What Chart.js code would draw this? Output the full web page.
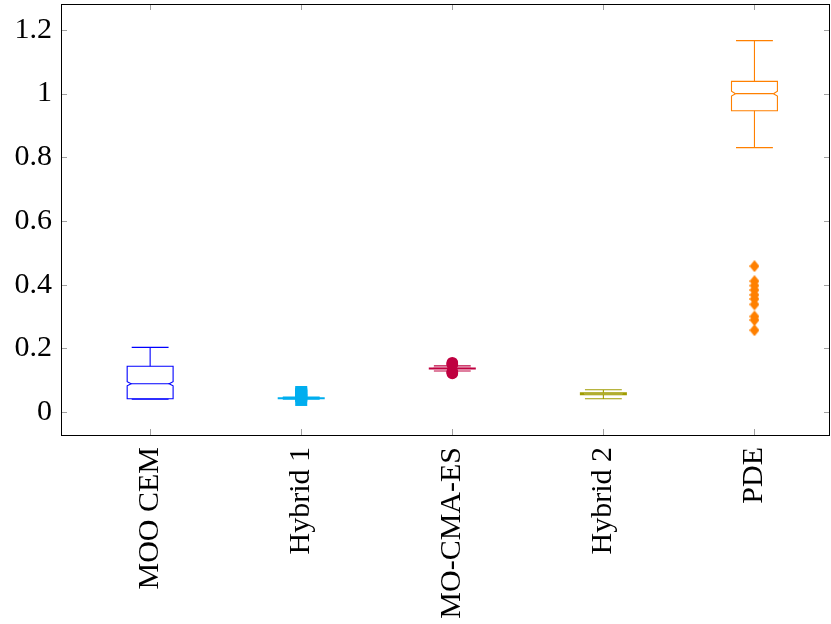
<!DOCTYPE html>
<html>
<head>
<meta charset="utf-8">
<script src="https://cdn.jsdelivr.net/npm/chart.js@4.4.0/dist/chart.umd.min.js"></script>
<style>
  html, body { margin: 0; padding: 0; background: #fff; }
  #wrap { width: 831px; height: 624px; }
</style>
</head>
<body>
<div id="wrap"><canvas id="box-chart"></canvas></div>
<script>
// categorias e estatísticas das caixas
const methods = ['MOO CEM', 'Hybrid 1', 'MO-CMA-ES', 'Hybrid 2', 'PDE'];
const whiskerLow  = [0.040, 0.040, 0.129, 0.042, 0.830];
const q1          = [0.042, 0.042, 0.1355, 0.0545, 0.946];
const notchLow    = [0.0826, 0.0428, 0.1365, 0.0565, 0.992];
const median      = [0.089, 0.0435, 0.137, 0.0575, 0.9995];
const notchHigh   = [0.0952, 0.0442, 0.1375, 0.0585, 1.007];
const q3          = [0.144, 0.045, 0.1385, 0.0605, 1.038];
const whiskerHigh = [0.203, 0.047, 0.145, 0.070, 1.166];

// valores atípicos por método
const outHybrid1 = [0.038, 0.050, 0.054, 0.058, 0.063];
const outMoCma   = [0.121, 0.124, 0.127, 0.149, 0.152, 0.155];
const outPde     = [0.458, 0.411, 0.397, 0.383, 0.368, 0.355, 0.338, 0.300, 0.289, 0.257];

const yTicks = [0, 0.2, 0.4, 0.6, 0.8, 1, 1.2];

const colors = ['#0000ff', '#00aeef', '#bf0040', '#a09c00', '#ff8000'];

// marcador losango (mais alto que largo)
function diamond(color, w, h) {
  const c = document.createElement('canvas');
  c.width = w; c.height = h;
  const g = c.getContext('2d');
  g.fillStyle = color;
  g.beginPath();
  g.moveTo(w / 2, 0); g.lineTo(w, h / 2); g.lineTo(w / 2, h); g.lineTo(0, h / 2);
  g.closePath(); g.fill();
  return c;
}

const toPts = (idx, vals) => vals.map(v => ({ x: idx + 1, y: v }));

// desenha caixas com entalhe, bigodes e moldura
const boxPlugin = {
  id: 'boxes',
  beforeDatasetsDraw(chart) {
    const { ctx, scales: { x, y } } = chart;
    ctx.save();
    ctx.lineWidth = 1.1;
    methods.forEach((m, i) => {
      const c = x.getPixelForValue(i + 1);
      const l = x.getPixelForValue(i + 1 - 0.152);
      const r = x.getPixelForValue(i + 1 + 0.152);
      const cl = x.getPixelForValue(i + 1 - 0.122);
      const cr = x.getPixelForValue(i + 1 + 0.122);
      const ind = 4;
      ctx.strokeStyle = colors[i];
      const yq1 = y.getPixelForValue(q1[i]), yq3 = y.getPixelForValue(q3[i]);
      const ynl = y.getPixelForValue(notchLow[i]), ynh = y.getPixelForValue(notchHigh[i]);
      const ym = y.getPixelForValue(median[i]);
      ctx.beginPath();
      ctx.moveTo(l, yq3); ctx.lineTo(r, yq3); ctx.lineTo(r, ynh);
      ctx.lineTo(r - ind, ym); ctx.lineTo(r, ynl); ctx.lineTo(r, yq1);
      ctx.lineTo(l, yq1); ctx.lineTo(l, ynl); ctx.lineTo(l + ind, ym);
      ctx.lineTo(l, ynh); ctx.closePath();
      ctx.stroke();
      ctx.beginPath();
      ctx.moveTo(l + ind, ym); ctx.lineTo(r - ind, ym);
      // bigodes
      const ywh = y.getPixelForValue(whiskerHigh[i]), ywl = y.getPixelForValue(whiskerLow[i]);
      ctx.moveTo(c, yq3); ctx.lineTo(c, ywh);
      ctx.moveTo(cl, ywh); ctx.lineTo(cr, ywh);
      ctx.moveTo(c, yq1); ctx.lineTo(c, ywl);
      ctx.moveTo(cl, ywl); ctx.lineTo(cr, ywl);
      ctx.stroke();
    });
    ctx.restore();
  },
  afterDatasetsDraw(chart) {
    const { ctx, scales: { x, y }, chartArea: a } = chart;
    ctx.save();
    ctx.strokeStyle = '#a0a0a0';
    ctx.lineWidth = 1;
    ctx.beginPath();
    yTicks.forEach(v => {
      const py = Math.round(y.getPixelForValue(v)) + 0.5;
      ctx.moveTo(a.left, py); ctx.lineTo(a.left + 6, py);
      ctx.moveTo(a.right, py); ctx.lineTo(a.right - 6, py);
    });
    methods.forEach((m, i) => {
      const px = Math.round(x.getPixelForValue(i + 1)) + 0.5;
      ctx.moveTo(px, a.bottom); ctx.lineTo(px, a.bottom - 6);
      ctx.moveTo(px, a.top); ctx.lineTo(px, a.top + 6);
    });
    ctx.stroke();
    ctx.strokeStyle = '#000';
    ctx.strokeRect(Math.round(a.left) + 0.5, Math.round(a.top) + 0.5,
      Math.round(a.right - a.left) - 1, Math.round(a.bottom - a.top));
    ctx.restore();
  }
};

new Chart(document.getElementById('box-chart'), {
  type: 'scatter',
  data: {
    datasets: [
      { data: toPts(1, outHybrid1), pointStyle: 'rect', radius: 8.5,
        backgroundColor: colors[1], borderWidth: 0 },
      { data: toPts(2, outMoCma), pointStyle: 'circle', radius: 5.8,
        backgroundColor: colors[2], borderWidth: 0 },
      { data: toPts(4, outPde), pointStyle: diamond(colors[4], 10, 12),
        backgroundColor: colors[4], borderWidth: 0 }
    ]
  },
  options: {
    responsive: true,
    maintainAspectRatio: false,
    animation: false,
    layout: { autoPadding: false, padding: { top: 4, right: 1, left: 0, bottom: 0 } },
    plugins: { legend: { display: false }, tooltip: { enabled: false } },
    scales: {
      x: {
        type: 'linear',
        min: 0.41,
        max: 5.5,
        grid: { display: false, drawTicks: false },
        border: { display: false },
        afterBuildTicks: s => { s.ticks = methods.map((m, i) => ({ value: i + 1 })); },
        afterFit: s => { s.height = 189; s.paddingLeft = 0; s.paddingRight = 0; },
        ticks: {
          autoSkip: false,
          minRotation: 90,
          maxRotation: 90,
          padding: 12,
          color: '#000',
          font: { family: 'Liberation Serif', size: 30 },
          callback: v => methods[v - 1]
        }
      },
      y: {
        min: -0.072,
        max: 1.281,
        grid: { display: false, drawTicks: false },
        border: { display: false },
        afterBuildTicks: s => { s.ticks = yTicks.map(v => ({ value: v })); },
        afterFit: s => { s.width = 61; s.paddingTop = 0; s.paddingBottom = 0; },
        ticks: {
          padding: 9,
          color: '#000',
          font: { family: 'Liberation Serif', size: 30 },
          callback: v => String(v)
        }
      }
    }
  },
  plugins: [boxPlugin]
});
</script>
</body>
</html>
